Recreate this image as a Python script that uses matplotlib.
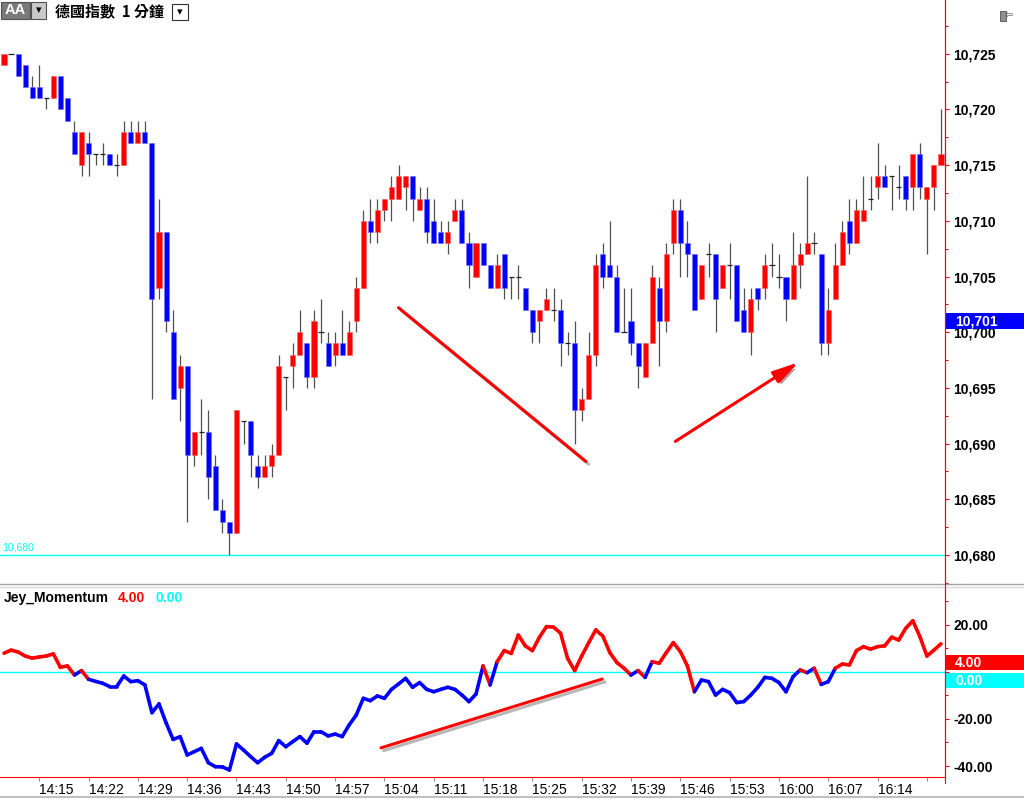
import numpy as np
import matplotlib
matplotlib.use('Agg')
import matplotlib.pyplot as plt
import matplotlib.patheffects as pe
from matplotlib.collections import LineCollection
from matplotlib.patches import Rectangle
from matplotlib.lines import Line2D
from matplotlib.transforms import blended_transform_factory

plt.rcParams['font.family'] = ['Liberation Sans', 'DejaVu Sans']

# 1-minute bars starting 14:10
start_time = '14:10'
opens = [10724, 10725, 10725, 10724, 10722, 10722, 10721, 10721, 10723, 10721,
         10718, 10715, 10717, 10716, 10716, 10716, 10715, 10715, 10718, 10717,
         10718, 10717, 10704, 10709, 10700, 10695, 10697, 10689, 10691, 10691,
         10688, 10684, 10683, 10682, 10692, 10692, 10688, 10687, 10688, 10689,
         10696, 10697, 10698, 10699, 10696, 10700, 10699, 10698, 10699, 10698,
         10701, 10704, 10710, 10709, 10711, 10712, 10712, 10713, 10714, 10711,
         10712, 10710, 10709, 10708, 10710, 10711, 10708, 10705, 10708, 10706,
         10704, 10707, 10705, 10705, 10704, 10702, 10701, 10702, 10702, 10702,
         10699, 10699, 10693, 10694, 10698, 10707, 10706, 10705, 10700, 10701,
         10699, 10696, 10699, 10704, 10701, 10708, 10711, 10708, 10707, 10703,
         10707, 10707, 10704, 10706, 10706, 10702, 10700, 10704, 10704, 10706,
         10705, 10705, 10703, 10706, 10707, 10708, 10707, 10699, 10703, 10706,
         10710, 10708, 10710, 10712, 10713, 10714, 10714, 10713, 10714, 10713,
         10716, 10712, 10713, 10715]
highs = [10725, 10725, 10725, 10724, 10723, 10724, 10721, 10723, 10723, 10721,
         10719, 10718, 10718, 10716, 10717, 10716, 10716, 10719, 10719, 10719,
         10719, 10717, 10712, 10709, 10702, 10698, 10697, 10691, 10694, 10693,
         10689, 10685, 10683, 10693, 10692, 10692, 10689, 10689, 10690, 10698,
         10696, 10699, 10702, 10699, 10702, 10703, 10700, 10700, 10702, 10701,
         10705, 10711, 10712, 10712, 10712, 10714, 10715, 10714, 10714, 10713,
         10713, 10712, 10710, 10710, 10712, 10712, 10709, 10708, 10708, 10706,
         10707, 10707, 10705, 10706, 10704, 10702, 10702, 10704, 10704, 10703,
         10700, 10701, 10695, 10700, 10707, 10708, 10710, 10706, 10704, 10704,
         10699, 10699, 10706, 10705, 10708, 10712, 10712, 10710, 10707, 10706,
         10708, 10707, 10706, 10708, 10706, 10704, 10704, 10704, 10707, 10708,
         10707, 10705, 10709, 10708, 10714, 10709, 10707, 10704, 10708, 10710,
         10712, 10712, 10714, 10714, 10717, 10715, 10714, 10715, 10714, 10716,
         10717, 10713, 10715, 10720]
lows = [10724, 10725, 10723, 10722, 10721, 10721, 10720, 10721, 10720, 10719,
        10716, 10714, 10714, 10715, 10715, 10715, 10714, 10715, 10717, 10717,
        10717, 10694, 10703, 10700, 10694, 10692, 10683, 10688, 10689, 10685,
        10684, 10682, 10680, 10682, 10690, 10687, 10686, 10687, 10687, 10689,
        10693, 10695, 10698, 10695, 10695, 10699, 10697, 10697, 10698, 10698,
        10700, 10704, 10708, 10708, 10710, 10710, 10712, 10711, 10710, 10711,
        10708, 10708, 10708, 10707, 10710, 10708, 10704, 10705, 10706, 10704,
        10704, 10703, 10703, 10703, 10702, 10699, 10699, 10702, 10701, 10697,
        10698, 10690, 10692, 10694, 10697, 10704, 10705, 10700, 10700, 10698,
        10695, 10696, 10699, 10697, 10700, 10707, 10705, 10705, 10702, 10703,
        10705, 10700, 10704, 10703, 10701, 10700, 10698, 10702, 10703, 10705,
        10704, 10701, 10703, 10704, 10707, 10707, 10698, 10698, 10703, 10706,
        10707, 10708, 10710, 10711, 10712, 10713, 10711, 10712, 10711, 10711,
        10712, 10707, 10711, 10715]
closes = [10725, 10725, 10723, 10722, 10721, 10721, 10721, 10723, 10720, 10719,
          10716, 10718, 10716, 10716, 10716, 10715, 10715, 10718, 10717, 10718,
          10717, 10703, 10709, 10701, 10694, 10697, 10689, 10691, 10691, 10687,
          10684, 10683, 10682, 10693, 10692, 10689, 10687, 10688, 10689, 10697,
          10696, 10698, 10700, 10696, 10701, 10700, 10697, 10699, 10698, 10700,
          10704, 10710, 10709, 10711, 10712, 10713, 10714, 10714, 10712, 10712,
          10709, 10708, 10708, 10709, 10711, 10708, 10706, 10708, 10706, 10704,
          10706, 10704, 10705, 10705, 10702, 10700, 10702, 10703, 10702, 10699,
          10699, 10693, 10694, 10698, 10706, 10705, 10705, 10700, 10700, 10699,
          10697, 10699, 10705, 10701, 10707, 10711, 10708, 10707, 10702, 10706,
          10707, 10703, 10706, 10706, 10701, 10700, 10703, 10703, 10706, 10706,
          10705, 10703, 10706, 10707, 10708, 10708, 10699, 10702, 10706, 10709,
          10708, 10711, 10711, 10712, 10714, 10713, 10714, 10713, 10712, 10716,
          10713, 10713, 10715, 10716]
momentum = [8.0, 9.3, 8.5, 6.8, 5.9, 6.4, 6.8, 7.7, 2.0, 2.6,
            -1.3, 0.6, -3.1, -4.0, -4.8, -6.2, -6.2, -1.7, -4.1, -3.7,
            -5.5, -17.3, -13.6, -21.6, -28.7, -27.5, -35.3, -33.9, -32.5, -38.6,
            -40.3, -40.4, -41.7, -30.6, -33.2, -36.0, -38.6, -36.3, -34.6, -29.2,
            -31.8, -29.6, -27.5, -30.3, -25.4, -25.4, -27.2, -26.4, -27.5, -22.5,
            -18.3, -11.2, -12.2, -10.2, -11.2, -7.4, -5.1, -2.7, -6.5, -4.5,
            -7.4, -8.4, -7.4, -6.5, -7.4, -9.8, -12.6, -9.4, 2.6, -5.5,
            4.4, 9.1, 7.9, 15.7, 11.1, 9.1, 14.8, 19.3, 19.1, 16.5,
            5.8, 0.6, 6.8, 12.5, 17.9, 15.3, 8.2, 4.0, 1.6, -1.3,
            0.6, -2.3, 4.4, 3.7, 8.2, 12.5, 8.7, 2.6, -8.4, -3.4,
            -4.1, -9.8, -7.4, -8.8, -13.0, -12.6, -9.8, -6.5, -2.3, -2.7,
            -4.5, -8.4, -2.0, 0.9, -0.3, 1.6, -5.3, -4.1, 1.6, 3.4,
            3.0, 9.1, 10.8, 9.7, 10.8, 11.1, 14.8, 13.6, 18.6, 21.8,
            15.1, 6.8, 9.3, 12.0]
time_labels = ['14:15', '14:22', '14:29', '14:36', '14:43', '14:50', '14:57',
               '15:04', '15:11', '15:18', '15:25', '15:32', '15:39', '15:46',
               '15:53', '16:00', '16:07', '16:14', '16:21']
price_ticks = [10680, 10685, 10690, 10695, 10700, 10705, 10710, 10715, 10720, 10725]
mom_ticks = [-40, -20, 0, 20]
last_price = 10701
signal_value = 4.0
zero_value = 0.0
support_price = 10680

RED, BLUE, CYAN = '#ff0000', '#0000ff', '#00ffff'
W, H = 1024, 799


def fx(px):
    return px / W


def fy(py):
    return 1 - py / H


def minutes(t):
    h, m = t.split(':')
    return int(h) * 60 + int(m)


fig = plt.figure(figsize=(W / 100, H / 100), dpi=100)
ax = fig.add_axes([0, fy(583), fx(945), fy(0) - fy(583)])
axm = fig.add_axes([0, fy(777), fx(945), fy(588) - fy(777)])

o, h, l, c = map(np.array, (opens, highs, lows, closes))
idx = np.arange(len(o))
up = c > o
down = c < o
doji = c == o

# candles
ax.vlines(idx, l, h, color='#505050', lw=0.9, zorder=1)
ax.bar(idx[up], (c - o)[up], bottom=o[up], width=0.72, color=RED,
       edgecolor='#ff6060', lw=0.4, zorder=2)
ax.bar(idx[down], (o - c)[down], bottom=c[down], width=0.72, color=BLUE,
       edgecolor='#7070ff', lw=0.4, zorder=2)
ax.hlines(c[doji], idx[doji] - 0.38, idx[doji] + 0.38, color='#202020', lw=0.9, zorder=2)

xlim = (-0.57, 133.57)
ax.set_xlim(*xlim)
ax.set_ylim(10677.49, 10729.82)
ax.axhline(support_price, color=CYAN, lw=1, zorder=0)
bt = blended_transform_factory(ax.transAxes, ax.transData)
ax.text(0.002, support_price + 0.25, f'{support_price:,}', transform=bt, color=CYAN,
        fontsize=7.5, va='bottom', ha='left')

ax.yaxis.tick_right()
ax.set_yticks(price_ticks)
ax.set_yticklabels([f'{p:,}' for p in price_ticks], fontweight='bold')
ax.set_yticks(np.arange(price_ticks[0] - 2.5, price_ticks[-1] + 5, 5), minor=True)
ax.tick_params(axis='y', which='both', colors=RED, labelcolor='black', labelsize=10,
               length=3, pad=3, width=0.8)
ax.tick_params(axis='y', which='minor', length=2)
ax.set_xticks([])
for s in ('top', 'left', 'bottom'):
    ax.spines[s].set_visible(False)
ax.spines['right'].set_color(RED)

# last price box
ax.add_patch(Rectangle((1.0, last_price - 0.72), 79 / 945, 1.44, transform=bt,
                       facecolor=BLUE, edgecolor='none', clip_on=False, zorder=5))
ax.text(955 / 945, last_price, f'{last_price:,}', transform=bt, color='white',
        fontsize=10, fontweight='bold', va='center', ha='left', zorder=6, clip_on=False)

# trend annotations
shadow = [pe.SimpleLineShadow(offset=(2, -2), shadow_color='#606060', alpha=0.45), pe.Normal()]
ax.plot([56.0, 82.6], [10702.2, 10688.4], color=RED, lw=2.2, solid_capstyle='round',
        path_effects=shadow, zorder=4)
ax.annotate('', xy=(112.8, 10697.3), xytext=(95.3, 10690.2),
            arrowprops=dict(arrowstyle='-|>,head_length=1.1,head_width=0.28', color=RED,
                            lw=2.2, mutation_scale=14, shrinkA=0, shrinkB=0,
                            path_effects=[pe.SimplePatchShadow(offset=(2, -2), alpha=0.4),
                                          pe.Normal()]),
            zorder=4)

# momentum panel
pts = np.column_stack([idx, momentum])
segs = np.stack([pts[:-1], pts[1:]], axis=1)
seg_colors = [RED if v >= 0 else BLUE for v in momentum[:-1]]
lc = LineCollection(segs, colors=seg_colors, linewidths=2.6, capstyle='round',
                    joinstyle='round', zorder=3)
axm.add_collection(lc)
axm.axhline(zero_value, color=CYAN, lw=1, zorder=2)
axm.plot([53.5, 84.9], [-32.3, -3.0], color=RED, lw=2.2, solid_capstyle='round',
         path_effects=shadow, zorder=4)
axm.set_xlim(*xlim)
axm.set_ylim(-44.68, 35.74)

# the 0.00 tick label sits under the value boxes, so leave it blank
axm.yaxis.tick_right()
axm.set_yticks(mom_ticks)
axm.set_yticklabels(['' if v == 0 else f'{v:.2f}' for v in mom_ticks], fontweight='bold')
axm.set_yticks([-30, -10, 10, 30], minor=True)
axm.tick_params(axis='y', which='both', colors=RED, labelcolor='black', labelsize=10,
                length=3, pad=3, width=0.8)
axm.tick_params(axis='y', which='minor', length=2)

t0 = minutes(start_time)
tick_pos = [minutes(t) - t0 for t in time_labels]
axm.set_xticks(tick_pos)
axm.set_xticklabels(time_labels[:-1] + [''])
for lab in axm.get_xticklabels():
    lab.set_horizontalalignment('left')
axm.tick_params(axis='x', colors='#909090', labelcolor='black', labelsize=10,
                length=3, pad=1.5, width=0.8)
for s in ('top', 'left'):
    axm.spines[s].set_visible(False)
axm.spines['right'].set_color(RED)
axm.spines['bottom'].set_color(RED)

bm = blended_transform_factory(axm.transAxes, axm.transData)
axm.add_patch(Rectangle((1.0, signal_value - 3.2), 79 / 945, 6.4, transform=bm,
                        facecolor=RED, edgecolor='none', clip_on=False, zorder=5))
axm.text(955 / 945, signal_value, f'{signal_value:.2f}', transform=bm, color='white',
         fontsize=10, fontweight='bold', va='center', ha='left', zorder=6, clip_on=False)
zero_box = signal_value - 3.2 - 1.3 - 3.2
axm.add_patch(Rectangle((1.0, zero_box - 3.2), 79 / 945, 6.4, transform=bm,
                        facecolor=CYAN, edgecolor='none', clip_on=False, zorder=5))
axm.text(955 / 945, zero_box, f'{zero_value:.2f}', transform=bm, color='white',
         fontsize=10, fontweight='bold', va='center', ha='left', zorder=6, clip_on=False)

# indicator legend
fig.text(fx(4), fy(598), 'Jey_Momentum', fontsize=10, fontweight='bold', va='center')
fig.text(fx(118), fy(598), f'{signal_value:.2f}', color=RED, fontsize=10,
         fontweight='bold', va='center')
fig.text(fx(155), fy(598), f'{zero_value:.2f}', color=CYAN, fontsize=10,
         fontweight='bold', va='center')

# panel separators and full-height price axis line
fig.add_artist(Line2D([0, 1], [fy(584), fy(584)], color='#a0a0a0', lw=1))
fig.add_artist(Line2D([0, 1], [fy(587), fy(587)], color='#d8d8d8', lw=1))
fig.add_artist(Line2D([0, 1], [fy(797), fy(797)], color='#c0c0c0', lw=1.5))
fig.add_artist(Line2D([fx(945), fx(945)], [fy(0), fy(783)], color=RED, lw=0.8))

# top bar
fig.add_artist(Rectangle((fx(1), fy(19)), fx(29), fy(2) - fy(19), facecolor='#7a7a7a',
                         edgecolor='#505050', lw=0.8))
fig.text(fx(15.5), fy(10.5), 'AA', color='white', fontsize=10.5, fontweight='bold',
         ha='center', va='center')
fig.add_artist(Rectangle((fx(31), fy(19)), fx(15), fy(2) - fy(19), facecolor='#c8c8c8',
                         edgecolor='#505050', lw=0.8))
fig.text(fx(38.5), fy(10.5), '▾', color='black', fontsize=8, ha='center', va='center',
         family=['DejaVu Sans'])
fig.text(fx(55), fy(11), '德國指數  1 分鐘', fontsize=10.8, fontweight='bold',
         va='center', ha='left', family=['Noto Sans CJK TC', 'DejaVu Sans'])
fig.add_artist(Rectangle((fx(172), fy(20)), fx(16), fy(4) - fy(20), facecolor='white',
                         edgecolor='#303030', lw=0.8))
fig.text(fx(180), fy(12), '▾', color='black', fontsize=8, ha='center', va='center',
         family=['DejaVu Sans'])
fig.add_artist(Rectangle((fx(1000), fy(21)), fx(6), fy(11) - fy(21), facecolor='#909090',
                         edgecolor='#505050', lw=0.6))
fig.text(fx(1009), fy(16), '⇦', color='#606060', fontsize=7, ha='center', va='center',
         family=['DejaVu Sans'])

fig.savefig('out.png', dpi=100)
